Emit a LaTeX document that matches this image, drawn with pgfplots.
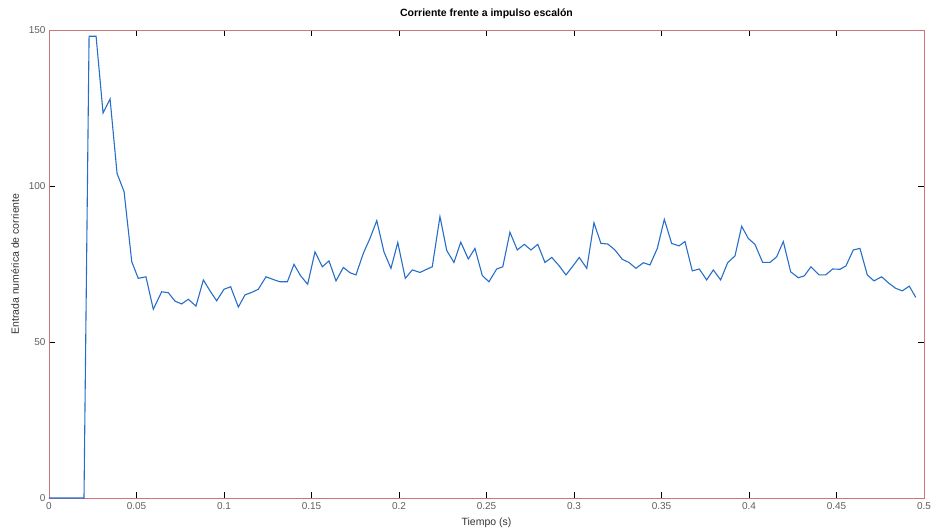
\documentclass[border=0pt]{standalone}
\usepackage{pgfplots}
\pgfplotsset{compat=1.18}
\usepackage{fontspec}
\setmainfont{Liberation Sans}

\definecolor{boxred}{RGB}{205,115,130}
\definecolor{lineblue}{RGB}{40,110,200}
\definecolor{ticktext}{RGB}{95,95,95}

\begin{document}
\begin{tikzpicture}
\begin{axis}[
    name=ax,
    scale only axis,
    width=875pt, height=468pt,
    xmin=0, xmax=0.5,
    ymin=0, ymax=150,
    xtick={0,0.05,0.1,0.15,0.2,0.25,0.3,0.35,0.4,0.45,0.5},
    ytick={0,50,100,150},
    xticklabels={0,0.05,0.1,0.15,0.2,0.25,0.3,0.35,0.4,0.45,0.5},
    tick align=inside,
    major tick length=6pt,
    tick style={black, line width=0.6pt},
    axis line style={boxred, line width=0.8pt},
    ticklabel style={font=\fontsize{10}{12}\selectfont, text=ticktext},
    xticklabel style={yshift=-1pt},
    title={\bfseries Corriente frente a impulso escalón},
    title style={font=\fontsize{10.5}{12}\selectfont, yshift=2pt},
    xlabel={Tiempo (s)},
    ylabel={Entrada numérica de corriente},
    label style={font=\fontsize{10.5}{12}\selectfont, text=black!80},
    xlabel style={yshift=-1pt},
    ylabel style={yshift=3pt},
    /pgf/number format/assume math mode=true,
]
\addplot[color=lineblue, line width=1.1pt] coordinates {
(0,0)(0.0200,0)(0.0229,148)(0.0269,148)(0.0309,123.4)(0.0349,127.9)
(0.0389,104)(0.0429,98.2)(0.0473,75.7)(0.0510,70.4)(0.0554,70.9)
(0.0596,60.5)(0.0644,66.1)(0.0682,65.8)(0.0720,63.1)(0.0758,62.2)
(0.0796,63.7)(0.0840,61.5)(0.0882,69.9)(0.0920,66.4)(0.0958,63.2)
(0.1000,66.9)(0.1038,67.7)(0.1082,61.2)(0.1120,65.1)(0.1158,65.9)
(0.1196,66.9)(0.1240,70.9)(0.1278,70.1)(0.1320,69.3)(0.1362,69.3)
(0.1400,74.9)(0.1438,71.2)(0.1478,68.5)(0.1520,78.9)(0.1562,74.1)
(0.1600,76.0)(0.1640,69.6)(0.1682,73.9)(0.1720,72.2)(0.1754,71.5)
(0.1796,78.4)(0.1834,83.2)(0.1873,88.9)(0.1914,78.9)(0.1954,73.6)
(0.1993,81.9)(0.2036,70.4)(0.2076,73.1)(0.2120,72.3)(0.2158,73.3)
(0.2190,74.1)(0.2234,90.2)(0.2273,79.3)(0.2314,75.5)(0.2353,82.0)
(0.2396,76.6)(0.2434,80.0)(0.2476,71.3)(0.2514,69.3)(0.2558,73.4)
(0.2593,74.1)(0.2634,85.2)(0.2676,79.5)(0.2716,81.3)(0.2754,79.5)
(0.2793,81.3)(0.2834,75.5)(0.2873,77.1)(0.2914,74.5)(0.2954,71.5)
(0.2993,74.3)(0.3030,77.1)(0.3073,73.6)(0.3114,88.2)(0.3154,81.6)
(0.3193,81.4)(0.3234,79.5)(0.3276,76.5)(0.3314,75.5)(0.3354,73.6)
(0.3396,75.4)(0.3434,74.7)(0.3476,80.0)(0.3516,89.3)(0.3558,81.6)
(0.3600,80.8)(0.3634,82.2)(0.3676,72.8)(0.3716,73.4)(0.3758,69.9)
(0.3796,73.1)(0.3838,69.9)(0.3878,75.4)(0.3920,77.6)(0.3958,87.1)
(0.3996,83.2)(0.4034,81.3)(0.4078,75.5)(0.4120,75.5)(0.4158,77.3)
(0.4196,82.2)(0.4238,72.5)(0.4282,70.6)(0.4316,71.2)(0.4354,74.1)
(0.4400,71.5)(0.4438,71.5)(0.4478,73.4)(0.4520,73.3)(0.4554,74.4)
(0.4596,79.5)(0.4634,80.0)(0.4676,71.5)(0.4714,69.6)(0.4758,70.9)
(0.4800,68.8)(0.4838,67.2)(0.4876,66.4)(0.4916,67.9)(0.4953,64.3)
};
\end{axis}
\pgfresetboundingbox
\useasboundingbox ([shift={(-49pt,-33pt)}]ax.south west) rectangle ([shift={(8pt,30pt)}]ax.north east);
\end{tikzpicture}
\end{document}
